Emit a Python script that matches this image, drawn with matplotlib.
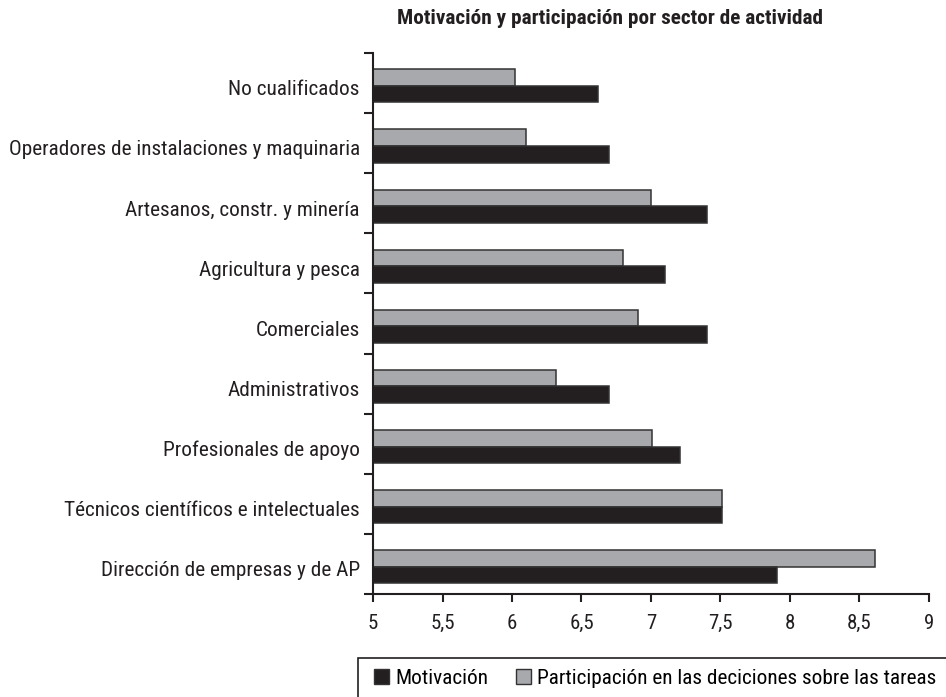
import matplotlib
matplotlib.use("Agg")
import matplotlib.pyplot as plt
from matplotlib.patches import Patch, Rectangle

plt.rcParams['font.family'] = ['Roboto Condensed', 'Liberation Sans', 'DejaVu Sans']

# Datos
sectores = ['Dirección de empresas y de AP',
            'Técnicos científicos e intelectuales',
            'Profesionales de apoyo',
            'Administrativos',
            'Comerciales',
            'Agricultura y pesca',
            'Artesanos, constr. y minería',
            'Operadores de instalaciones y maquinaria',
            'No cualificados']
motivacion = [7.91, 7.51, 7.21, 6.70, 7.40, 7.10, 7.40, 6.70, 6.62]
participacion = [8.61, 7.51, 7.01, 6.32, 6.91, 6.80, 7.00, 6.10, 6.02]
xticks = [5, 5.5, 6, 6.5, 7, 7.5, 8, 8.5, 9]
xlabels = ['5', '5,5', '6', '6,5', '7', '7,5', '8', '8,5', '9']

negro = '#231f20'
gris = '#a7a9ac'
borde = '#333333'

fig = plt.figure(figsize=(9.46, 6.97), dpi=100)
ax = fig.add_axes([0.3943, 0.1478, 0.5877, 0.7762])

ypos = list(range(len(sectores)))
h = 0.275
ax.barh([y + 0.09 for y in ypos], [p - 5 for p in participacion], left=5, height=h,
        color=gris, edgecolor=borde, linewidth=1.1)
ax.barh([y - 0.185 for y in ypos], [m - 5 for m in motivacion], left=5, height=h,
        color=negro, edgecolor=borde, linewidth=1.1)

ax.set_xlim(5, 9)
ax.set_ylim(-0.5, len(sectores) - 0.5)
ax.set_xticks(xticks)
ax.set_xticklabels(xlabels, fontsize=15, color=negro)
ax.set_yticks([y - 0.08 for y in ypos])
ax.set_yticklabels(sectores, fontsize=15.3, color=negro)
ax.set_yticks([y - 0.5 for y in range(len(sectores) + 1)], minor=True)
ax.tick_params(axis='y', which='major', length=0, pad=9.5)
ax.tick_params(axis='y', which='minor', length=6.5, width=1.5, color=negro, direction='out')
ax.tick_params(axis='x', length=6, width=1.5, color=negro, direction='out', pad=8.5)

for s in ['top', 'right']:
    ax.spines[s].set_visible(False)
for s in ['left', 'bottom']:
    ax.spines[s].set_linewidth(1.5)
    ax.spines[s].set_color(negro)

fig.text(0.645, 0.974, 'Motivación y participación por sector de actividad',
         ha='center', va='center', fontsize=15.3, fontweight='bold', color=negro)

# Leyenda (el marco se sale de la figura)
fig.add_artist(Rectangle((358 / 946, -0.1), 0.7, (697 - 658) / 697 + 0.1,
                         transform=fig.transFigure, fill=False,
                         edgecolor=negro, linewidth=1.2))
handles = [Patch(facecolor=negro, edgecolor=borde, linewidth=1.0, label='Motivación'),
           Patch(facecolor=gris, edgecolor=borde, linewidth=1.0,
                 label='Participación en las deciciones sobre las tareas')]
fig.legend(handles=handles, loc='center left', bbox_to_anchor=(374 / 946, 19 / 697),
           ncol=2, frameon=False, fontsize=15.3, handlelength=0.7, handleheight=0.7,
           handletextpad=0.3, columnspacing=1.3, borderpad=0, borderaxespad=0)

fig.savefig('out.png', dpi=100)
